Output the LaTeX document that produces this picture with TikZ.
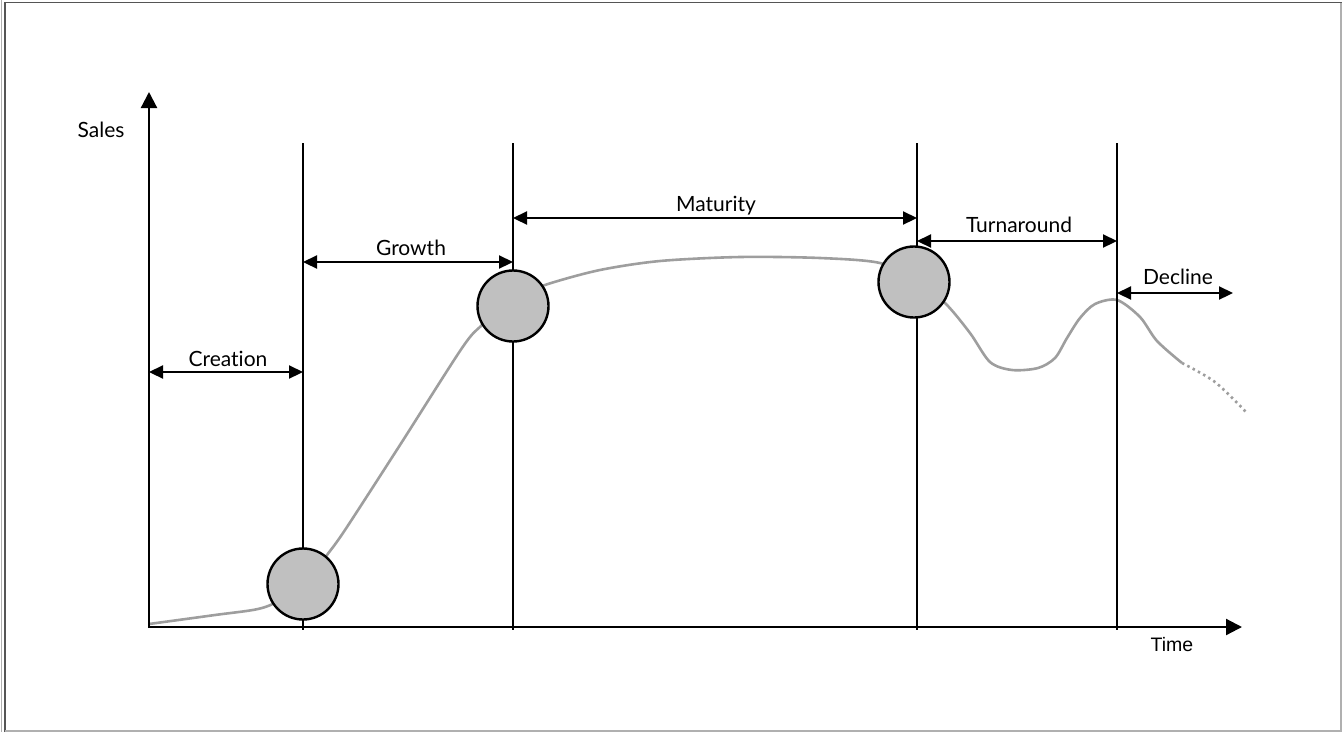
\documentclass[tikz,border=0pt]{standalone}
\usepackage{fontspec}
\setmainfont{Lato}[Ligatures={NoCommon}]
\newfontfamily\arialf{Liberation Sans}
\usetikzlibrary{arrows.meta}
\definecolor{circfill}{HTML}{C0C0C0}
\definecolor{curvegray}{HTML}{9E9E9E}
\definecolor{framedark}{HTML}{555555}
\definecolor{framelight}{HTML}{B0B0B0}
\begin{document}
\begin{tikzpicture}[x=1pt,y=-1pt,
  lbl/.style={font=\fontsize{21}{24}\selectfont, anchor=base, inner sep=0pt},
  vline/.style={line width=2pt},
  span/.style={line width=2.2pt, {Triangle[length=14pt,width=13pt]}-{Triangle[length=14pt,width=13pt]}},
  axisline/.style={line width=2.2pt, -{Triangle[length=16pt,width=16pt]}},
  stage/.style={circle, draw, line width=2.4pt, fill=circfill, minimum size=71pt, inner sep=0pt},
  curve/.style={draw=curvegray, line width=2.6pt}
]
\useasboundingbox (0,0) rectangle (1342,732);
% frame
\draw[framelight, line width=1pt] (1.5,0) -- (1.5,732);
\draw[framedark, line width=1.5pt] (5,732) -- (5,2.5) -- (1342,2.5);
\draw[framelight, line width=1.5pt] (1341,2.5) -- (1341,731) -- (5,731);

% coordinates
\coordinate (yb) at (149,628);
\coordinate (yt) at (149,92);
\coordinate (xl) at (148,627);
\coordinate (xr) at (1242,627);
\foreach \n/\x in {1/303,2/513,3/917,4/1117}{
  \coordinate (t\n) at (\x,143);
  \coordinate (b\n) at (\x,630);
}

% curve
\draw[curve] plot[smooth, tension=0.5] coordinates {
 (149,624) (215,615) (258,609) (280,600) (310,578) (327,555) (345,530)
 (400,445) (462,348) (482,325) (513,298) (548,284) (600,270) (660,261)
 (740,257) (820,258) (880,263) (915,280) (945,303) (970,333) (990,362)
 (1012,370) (1038,368) (1055,358) (1067,338) (1080,318) (1095,304)
 (1117,300) (1140,317) (1157,341) (1182,363)};
\draw[curve, dash pattern=on 2.5pt off 3.5pt] plot[smooth, tension=0.5] coordinates {
 (1182,363) (1215,382) (1246,412)};

% axes
\draw[axisline] (yb) -- (yt);
\draw[axisline] (xl) -- (xr);

% vertical lines
\foreach \n in {1,2,3,4}{\draw[vline] (t\n) -- (b\n);}

% spans
\coordinate (c0) at (149,372); \coordinate (c1) at (303,372);
\coordinate (g0) at (303,262); \coordinate (g1) at (513,262);
\coordinate (m0) at (513,218); \coordinate (m1) at (917,218);
\coordinate (u0) at (917,241); \coordinate (u1) at (1117,241);
\coordinate (d0) at (1117,293); \coordinate (d1) at (1233,293);
\draw[span] (c0) -- (c1);
\draw[span] (g0) -- (g1);
\draw[span] (m0) -- (m1);
\draw[span] (u0) -- (u1);
\draw[span] (d0) -- (d1);

% circles
\node[stage] (s1) at (303,584) {};
\node[stage] (s2) at (513,306) {};
\node[stage] (s3) at (914,282) {};

% labels
\node[lbl] (sales) at (101,137) {Sales};
\node[lbl, font=\arialf\fontsize{19.5}{22}\selectfont] (time) at (1172,651) {Time};
\node[lbl] (creation) at (228,366) {Creation};
\node[lbl] (growth) at (411,255) {Growth};
\node[lbl] (maturity) at (716,211) {Maturity};
\node[lbl] (turn) at (1019,232) {Turnaround};
\node[lbl] (decline) at (1178,284) {Decline};
\end{tikzpicture}
\end{document}
